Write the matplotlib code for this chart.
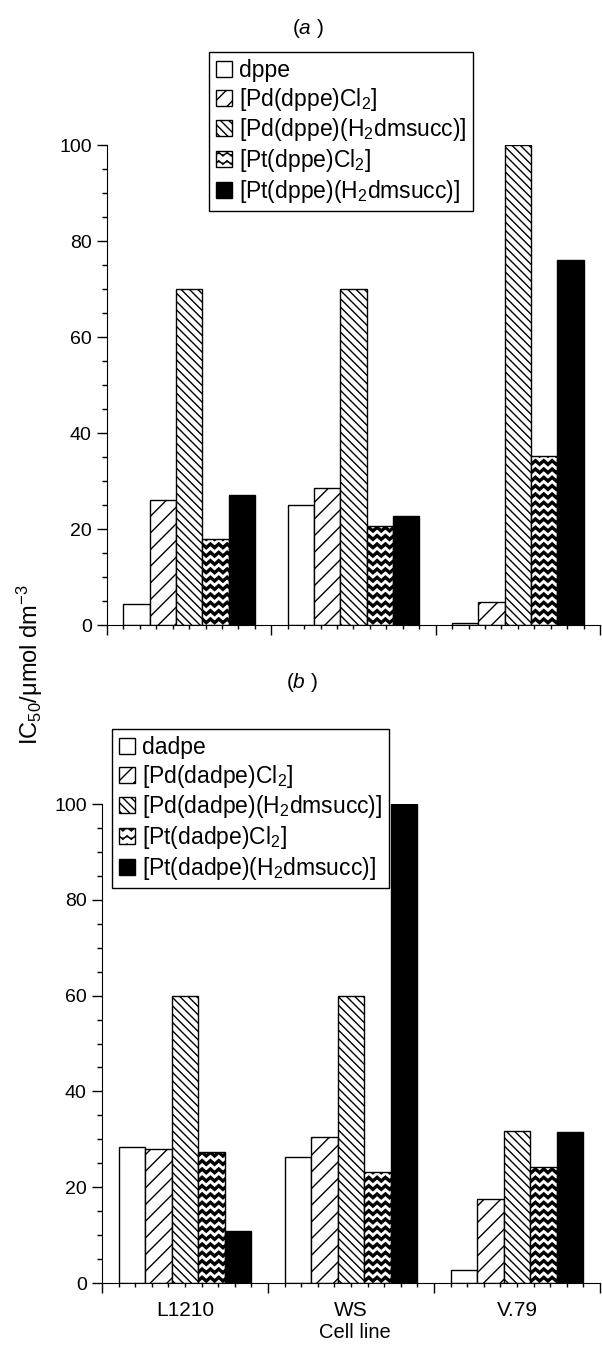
import warnings
import numpy as np
import matplotlib
matplotlib.use('Agg')
import matplotlib.pyplot as plt
from matplotlib import hatch as mhatch
from matplotlib.path import Path

warnings.filterwarnings('ignore')

plt.rcParams['font.family'] = ['Liberation Sans', 'DejaVu Sans']
plt.rcParams['mathtext.fontset'] = 'custom'
plt.rcParams['mathtext.rm'] = 'Liberation Sans'
plt.rcParams['mathtext.it'] = 'Liberation Sans:italic'
plt.rcParams['hatch.linewidth'] = 1.0


# wavy texture for the Pt(...)Cl2 bars, hatch char '~'
class WavyHatch(mhatch.HatchPatternBase):
    def __init__(self, hatch, density):
        self.rows = int(hatch.count('~') * density)
        self.waves = self.rows
        self.n = 4 * self.waves + 1
        self.num_vertices = self.rows * self.n

    def set_vertices_and_codes(self, vertices, codes):
        n = self.n
        xs = np.linspace(0, 1, n)
        amp = 0.22 / max(self.rows, 1)
        offs = amp * np.sin(2 * np.pi * self.waves * xs)
        for i in range(self.rows):
            y = (i + 0.5) / self.rows
            vertices[i * n:(i + 1) * n, 0] = xs
            vertices[i * n:(i + 1) * n, 1] = y + offs
            codes[i * n] = Path.MOVETO
            codes[i * n + 1:(i + 1) * n] = Path.LINETO


mhatch._hatch_types.append(WavyHatch)

cells = ['L1210', 'WS', 'V.79']

labels_a = ['dppe', '[Pd(dppe)Cl$_2$]', '[Pd(dppe)(H$_2$dmsucc)]',
            '[Pt(dppe)Cl$_2$]', '[Pt(dppe)(H$_2$dmsucc)]']
dppe = [4.4, 25.0, 0.4]
pd_dppe_cl2 = [26.0, 28.5, 4.8]
pd_dppe_succ = [70.0, 70.0, 100.0]
pt_dppe_cl2 = [18.0, 20.6, 35.3]
pt_dppe_succ = [27.0, 22.7, 76.0]

labels_b = ['dadpe', '[Pd(dadpe)Cl$_2$]', '[Pd(dadpe)(H$_2$dmsucc)]',
            '[Pt(dadpe)Cl$_2$]', '[Pt(dadpe)(H$_2$dmsucc)]']
dadpe = [28.3, 26.4, 2.7]
pd_dadpe_cl2 = [27.9, 30.5, 17.6]
pd_dadpe_succ = [60.0, 60.0, 31.7]
pt_dadpe_cl2 = [27.3, 23.2, 24.2]
pt_dadpe_succ = [10.8, 100.0, 31.5]

styles = [('white', ''), ('white', '//'), ('white', '\\\\\\\\'),
          ('white', '~~'), ('black', '')]

W, H = 602, 1347
fig = plt.figure(figsize=(W / 100, H / 100), dpi=100)
ax_a = fig.add_axes([107 / W, 1 - 625 / H, 493 / W, 480 / H])
ax_b = fig.add_axes([102 / W, 1 - 1283 / H, 498 / W, 479 / H])

x = np.arange(len(cells))
bw = 0.16


def draw(ax, series, labels):
    for k, (vals, (fc, ht)) in enumerate(zip(series, styles)):
        bars = ax.bar(x + (k - 2) * bw, vals, bw, color=fc, edgecolor='black',
                      linewidth=1.0, hatch=ht, label=labels[k])
        if ht.startswith('~'):
            for p in bars:
                if hasattr(p, 'set_hatch_linewidth'):
                    p.set_hatch_linewidth(2.4)
    ax.set_xlim(-0.5, 2.5)
    ax.set_ylim(0, 100)
    ax.spines['top'].set_visible(False)
    ax.spines['right'].set_visible(False)
    ax.set_yticks(np.arange(0, 101, 20))
    ax.set_yticks(np.arange(0, 101, 5), minor=True)
    ax.set_xticks([-0.5, 0.5, 1.5, 2.5])
    ax.set_xticks(np.arange(-0.5, 2.51, 0.1), minor=True)
    ax.set_xticklabels([])
    ax.tick_params(axis='y', which='major', length=7, width=1, labelsize=14, pad=4)
    ax.tick_params(axis='y', which='minor', length=3.5, width=1)
    ax.tick_params(axis='x', which='major', length=7, width=1)
    ax.tick_params(axis='x', which='minor', length=3, width=1)


draw(ax_a, [dppe, pd_dppe_cl2, pd_dppe_succ, pt_dppe_cl2, pt_dppe_succ], labels_a)
draw(ax_b, [dadpe, pd_dadpe_cl2, pd_dadpe_succ, pt_dadpe_cl2, pt_dadpe_succ], labels_b)

leg_kw = dict(loc='upper left', bbox_transform=fig.transFigure, fontsize=16.5,
              frameon=True, fancybox=False, edgecolor='black', framealpha=1,
              handlelength=0.7, handleheight=0.7, handletextpad=0.3,
              labelspacing=0.16, borderpad=0.3, borderaxespad=0)
la = ax_a.legend(bbox_to_anchor=(209 / W, 1 - 52 / H), **leg_kw)
lb = ax_b.legend(bbox_to_anchor=(112 / W, 1 - 729 / H), **leg_kw)
for lg in (la, lb):
    lg.get_frame().set_linewidth(1.0)

sec = ax_b.secondary_xaxis('bottom')
sec.set_xticks(x, cells)
sec.tick_params(length=0, labelsize=15, pad=13)
sec.spines['bottom'].set_visible(False)

fig.text(355 / W, 1 - 1332 / H, 'Cell line', ha='center', va='center', fontsize=14.5)
fig.text(308 / W, 1 - 28 / H, '($\\mathit{a}$ )', ha='center', va='center', fontsize=15)
fig.text(302 / W, 1 - 683 / H, '($\\mathit{b}$ )', ha='center', va='center', fontsize=15)
fig.text(30 / W, 1 - 665 / H, 'IC$_{50}$/μmol dm$^{-3}$', rotation=90,
         ha='center', va='center', fontsize=17)

fig.savefig('out.png', dpi=100)
